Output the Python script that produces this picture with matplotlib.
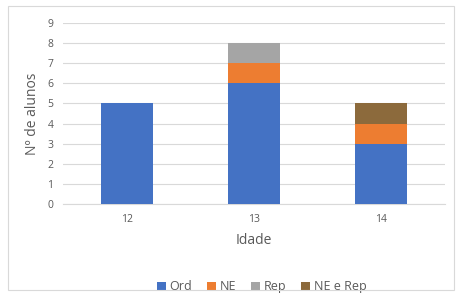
import numpy as np
from matplotlib import pyplot as plt
from matplotlib.patches import Rectangle

ages = ['12', '13', '14']
ord_vals = [5, 6, 3]
ne_vals = [0, 1, 1]
rep_vals = [0, 1, 0]
nerep_vals = [0, 0, 1]

series = [('Ord', ord_vals, '#4472C4'),
          ('NE', ne_vals, '#ED7D31'),
          ('Rep', rep_vals, '#A5A5A5'),
          ('NE e Rep', nerep_vals, '#8C6A3C')]

plt.rcParams['font.family'] = ['Open Sans', 'DejaVu Sans']

fig = plt.figure(figsize=(4.58, 2.97), dpi=100)
fig.patches.append(Rectangle((8 / 458, 7 / 297), 446 / 458, 284 / 297,
                             transform=fig.transFigure, fill=False,
                             edgecolor='#D9D9D9', linewidth=0.8))
ax = fig.add_axes([63 / 458, 1 - 204 / 297, 382 / 458, 181 / 297])

x = np.arange(len(ages))
bottom = np.zeros(len(ages))
for name, vals, color in series:
    ax.bar(x, vals, 0.41, bottom=bottom, color=color, label=name, zorder=3)
    bottom += np.array(vals)

ax.set_xlim(-0.5, 2.5)
ax.set_ylim(0, 9)
ax.set_yticks(range(10))
ax.set_xticks(x)
ax.set_xticklabels(ages)
ax.grid(axis='y', color='#D9D9D9', linewidth=0.8, zorder=0)
for s in ['top', 'right', 'left']:
    ax.spines[s].set_visible(False)
ax.spines['bottom'].set_color('#D9D9D9')
ax.tick_params(length=0, labelsize=7.5, colors='#595959', pad=7)
ax.set_xlabel('Idade', fontsize=10, color='#595959', labelpad=6)
ax.set_ylabel('Nº de alunos', fontsize=10, color='#595959', labelpad=5)

ax.legend(loc='upper center', bbox_to_anchor=(0.52, -0.36), ncol=4,
          frameon=False, fontsize=9, handlelength=0.7, handleheight=0.7,
          handletextpad=0.3, columnspacing=1.2, labelcolor='#595959')

fig.savefig('out.png', dpi=100)
